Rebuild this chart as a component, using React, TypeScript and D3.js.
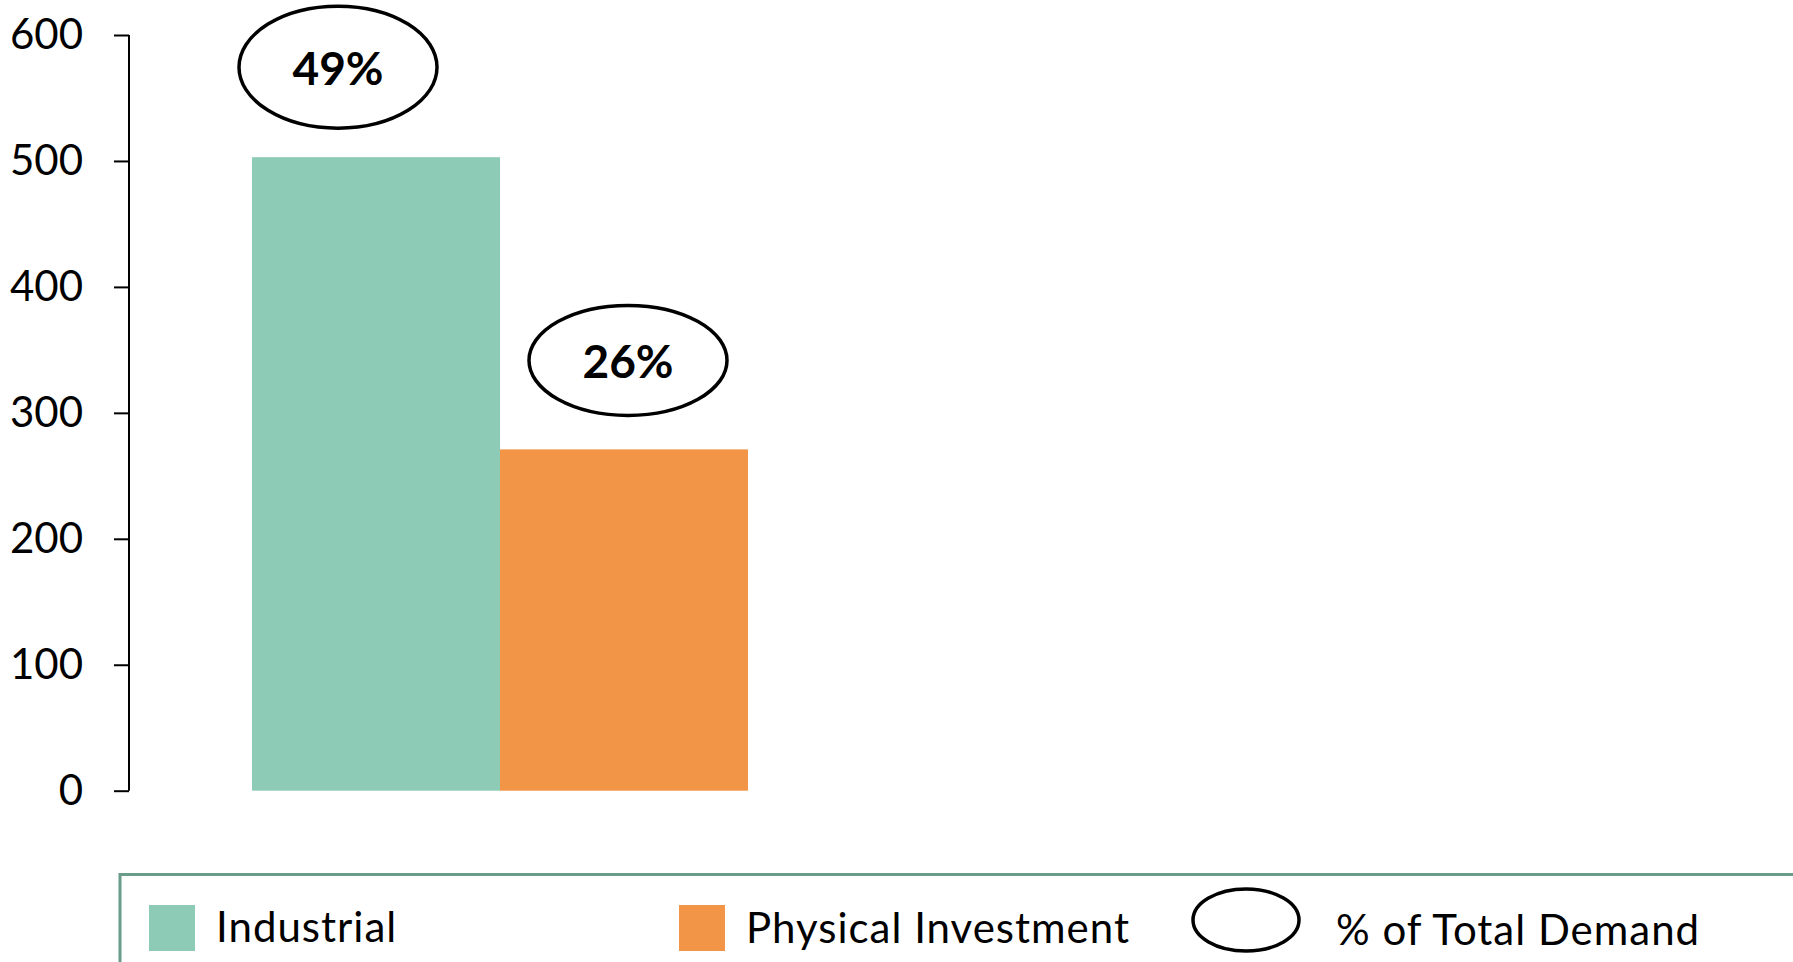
import React, { useRef, useEffect } from 'react'
import * as d3 from 'd3'

// data
const categories = ['Demand']
const seriesNames = ['Industrial', 'Physical Investment']
const seriesValues = [503, 271]
const shareLabels = ['49%', '26%']
const seriesColors = ['#8ecbb7', '#f29547']
const yTicks = [0, 100, 200, 300, 400, 500, 600]
const legendEllipseLabel = '% of Total Demand'

// ellipse call-out placement relative to each bar (dx from bar centre, gap above bar, radii)
const calloutStyle = [
    { dx: -38, gap: 29, rx: 99, ry: 61 },
    { dx: 4, gap: 34, rx: 99, ry: 55 },
]

const WIDTH = 1793
const HEIGHT = 962
const FONT = 'Lato, "Open Sans", sans-serif'

const App: React.FC = () => {
    const svgRef = useRef<SVGSVGElement>(null)

    useEffect(() => {
        const svg = d3.select(svgRef.current)
        svg.selectAll('*').remove()
        svg.attr('width', WIDTH).attr('height', HEIGHT)

        const axisX = 129
        const yScale = d3.scaleLinear().domain([0, 600]).range([790.7, 35])

        const x0 = d3.scaleBand<string>().domain(categories).range([axisX, 871]).paddingInner(0).paddingOuter(0.248)
        const x1 = d3.scaleBand<string>().domain(seriesNames).range([0, x0.bandwidth()]).padding(0)

        // y axis
        const yAxis = d3
            .axisLeft(yScale)
            .tickValues(yTicks)
            .tickSize(15)
            .tickPadding(31)
            .tickFormat(d3.format('d'))

        const ax = svg.append('g').attr('transform', `translate(${axisX},0)`).call(yAxis)
        ax.select('.domain').attr('stroke', '#000').attr('stroke-width', 2).attr('d', `M-0,${yScale(600)}V${yScale(0)}`)
        ax.selectAll('.tick line').attr('stroke', '#000').attr('stroke-width', 2)
        ax.selectAll('.tick text')
            .attr('fill', '#000')
            .style('font-family', FONT)
            .style('font-size', '42px')

        // bars
        const group = svg
            .selectAll('.group')
            .data(categories)
            .enter()
            .append('g')
            .attr('class', 'group')
            .attr('transform', (d) => `translate(${x0(d)},0)`)

        group
            .selectAll('rect')
            .data(seriesNames.map((name, i) => ({ name, value: seriesValues[i], color: seriesColors[i] })))
            .enter()
            .append('rect')
            .attr('x', (d) => x1(d.name)!)
            .attr('y', (d) => yScale(d.value))
            .attr('width', x1.bandwidth())
            .attr('height', (d) => yScale(0) - yScale(d.value))
            .attr('fill', (d) => d.color)

        // share call-outs
        const callouts = group
            .selectAll('.callout')
            .data(seriesNames.map((name, i) => ({ name, value: seriesValues[i], label: shareLabels[i], s: calloutStyle[i] })))
            .enter()
            .append('g')
            .attr('class', 'callout')
            .attr('transform', (d) => {
                const cx = x1(d.name)! + x1.bandwidth() / 2 + d.s.dx
                const cy = yScale(d.value) - d.s.gap - d.s.ry
                return `translate(${cx},${cy})`
            })

        callouts
            .append('ellipse')
            .attr('rx', (d) => d.s.rx)
            .attr('ry', (d) => d.s.ry)
            .attr('fill', '#fff')
            .attr('stroke', '#000')
            .attr('stroke-width', 3.5)

        callouts
            .append('text')
            .attr('text-anchor', 'middle')
            .attr('dy', '0.36em')
            .attr('y', 1)
            .style('font-family', FONT)
            .style('font-weight', 700)
            .style('font-size', '46px')
            .text((d) => d.label)

        // legend
        const legend = svg.append('g')
        legend
            .append('path')
            .attr('d', `M120,${HEIGHT + 10}V874.5H${WIDTH + 10}`)
            .attr('fill', 'none')
            .attr('stroke', '#6a9c8a')
            .attr('stroke-width', 3)

        const swatchX = [149, 679]
        const textX = [216, 746]
        const baseY = [942, 943]
        seriesNames.forEach((name, i) => {
            legend
                .append('rect')
                .attr('x', swatchX[i])
                .attr('y', 905)
                .attr('width', 46)
                .attr('height', 46)
                .attr('fill', seriesColors[i])
            legend
                .append('text')
                .attr('x', textX[i])
                .attr('y', baseY[i])
                .style('font-family', FONT)
                .style('font-size', '42px')
                .style('letter-spacing', '1px')
                .text(name)
        })

        legend
            .append('ellipse')
            .attr('cx', 1246)
            .attr('cy', 920)
            .attr('rx', 53)
            .attr('ry', 31)
            .attr('fill', 'none')
            .attr('stroke', '#000')
            .attr('stroke-width', 3.5)

        legend
            .append('text')
            .attr('x', 1336)
            .attr('y', 945)
            .style('font-family', FONT)
            .style('font-size', '42px')
            .style('letter-spacing', '1px')
            .text(legendEllipseLabel)
    }, [])

    return (
        <div style={{ position: 'absolute', left: 0, top: 0 }}>
            <svg ref={svgRef} style={{ display: 'block', background: '#fff' }} />
        </div>
    )
}

export default App
